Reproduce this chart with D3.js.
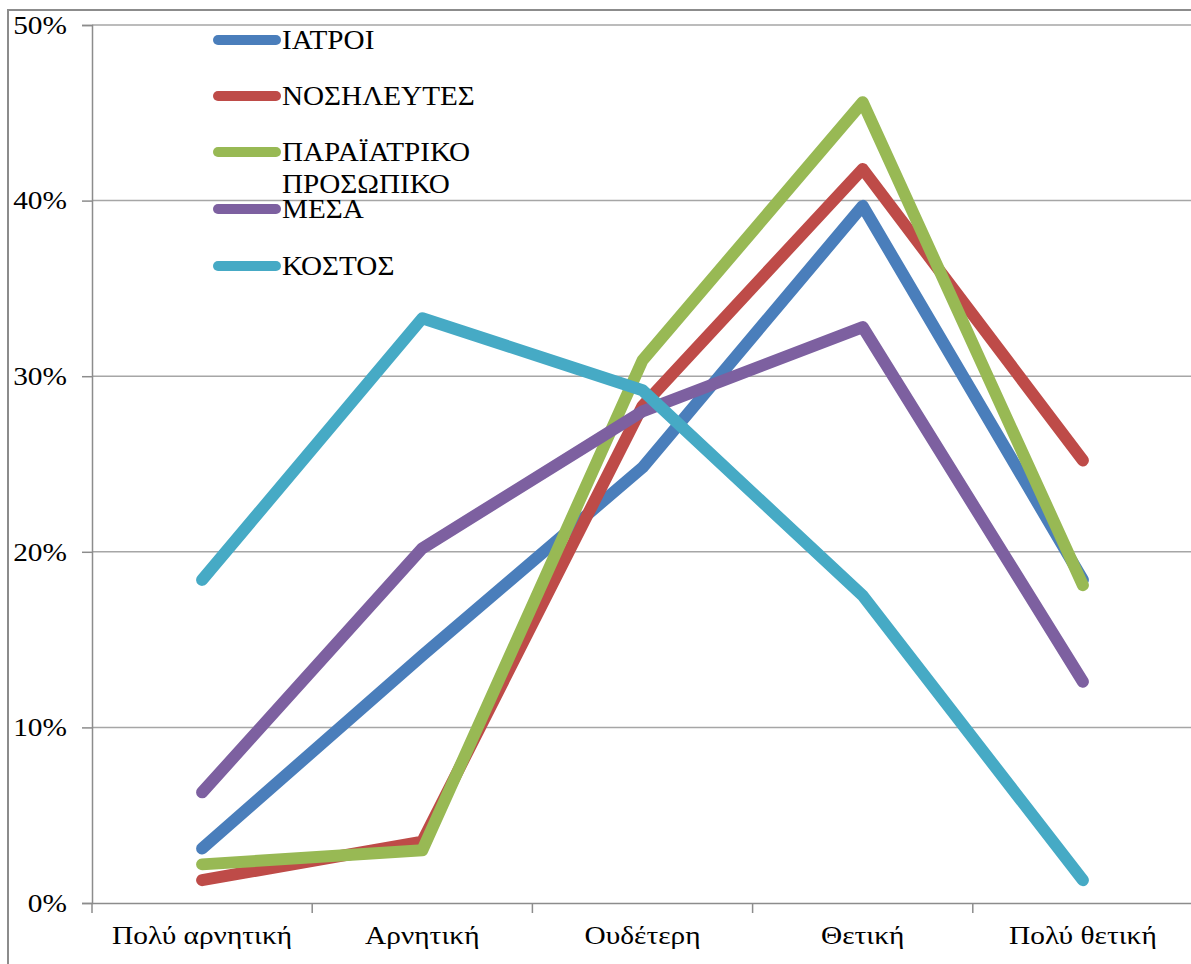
<!DOCTYPE html>
<html>
<head>
<meta charset="utf-8">
<script src="https://cdn.jsdelivr.net/npm/d3@7"></script>
<style>
  body { margin: 0; background: #fff; }
  svg { display: block; }
</style>
</head>
<body>
<div id="container"></div>
<script>
const categories = ['Πολύ αρνητική', 'Αρνητική', 'Ουδέτερη', 'Θετική', 'Πολύ θετική'];
const seriesNames = ['ΙΑΤΡΟΙ', 'ΝΟΣΗΛΕΥΤΕΣ', 'ΠΑΡΑΪΑΤΡΙΚΟ ΠΡΟΣΩΠΙΚΟ', 'ΜΕΣΑ', 'ΚΟΣΤΟΣ'];
const iatroi = [0.031, 0.141, 0.248, 0.397, 0.184];
const nosileutes = [0.013, 0.035, 0.283, 0.418, 0.252];
const paraiatriko = [0.022, 0.030, 0.309, 0.456, 0.181];
const mesa = [0.063, 0.202, 0.280, 0.328, 0.126];
const kostos = [0.184, 0.333, 0.292, 0.175, 0.013];
const yTicks = [0, 0.1, 0.2, 0.3, 0.4, 0.5];
const colors = ['#4a7ebb', '#be4b48', '#98b954', '#7d60a0', '#46aac5'];

const series = [iatroi, nosileutes, paraiatriko, mesa, kostos];

const W = 1191, H = 964;
const font = "'Liberation Serif', 'Times New Roman', serif";
const sx = 1.13;   // text in the picture is a bit wide

const svg = d3.select('#container')
    .append('svg')
    .attr('width', W)
    .attr('height', H);

// outer chart frame (runs off the picture on right and bottom)
svg.append('rect')
    .attr('x', 8)
    .attr('y', 10)
    .attr('width', W + 20)
    .attr('height', H + 20)
    .attr('fill', 'none')
    .attr('stroke', '#8c8c8c')
    .attr('stroke-width', 2);

const plotL = 92, plotR = 1193, plotT = 25, plotB = 903;

const x = d3.scaleBand()
    .domain(categories)
    .range([plotL, plotR])
    .padding(0);

const y = d3.scaleLinear()
    .domain([0, 0.5])
    .range([plotB, plotT]);

// gridlines
svg.append('g')
    .selectAll('line')
    .data(yTicks.filter(d => d > 0))
    .enter()
    .append('line')
    .attr('x1', plotL)
    .attr('x2', plotR)
    .attr('y1', d => y(d))
    .attr('y2', d => y(d))
    .attr('stroke', '#a6a6a6')
    .attr('stroke-width', 1.5);

// y axis
const yAxis = svg.append('g')
    .attr('transform', `translate(${plotL},0)`)
    .call(d3.axisLeft(y).tickValues(yTicks).tickFormat(d3.format('.0%')).tickSize(10).tickPadding(15));
yAxis.select('.domain').attr('stroke', '#8c8c8c').attr('stroke-width', 1.5);
yAxis.selectAll('.tick line').attr('stroke', '#8c8c8c').attr('stroke-width', 1.5);
yAxis.selectAll('.tick text')
    .style('font-family', font)
    .style('font-size', '26px')
    .attr('fill', '#000')
    .attr('x', -25 / sx)
    .attr('transform', `scale(${sx},1)`);

// x axis
const xAxis = svg.append('g')
    .attr('transform', `translate(0,${plotB})`)
    .call(d3.axisBottom(x).tickSize(0).tickPadding(23));
xAxis.select('.domain').attr('stroke', '#8c8c8c').attr('stroke-width', 1.5);
xAxis.selectAll('.tick text')
    .style('font-family', font)
    .style('font-size', '26px')
    .attr('fill', '#000')
    .attr('transform', `scale(${sx},1)`);

// category boundary ticks
svg.append('g')
    .selectAll('line')
    .data(categories)
    .enter()
    .append('line')
    .attr('x1', d => x(d))
    .attr('x2', d => x(d))
    .attr('y1', plotB)
    .attr('y2', plotB + 10)
    .attr('stroke', '#8c8c8c')
    .attr('stroke-width', 1.5);

// lines
const line = d3.line()
    .x((d, i) => x(categories[i]) + x.bandwidth() / 2)
    .y(d => y(d));

svg.append('g')
    .selectAll('path')
    .data(series)
    .enter()
    .append('path')
    .attr('d', line)
    .attr('fill', 'none')
    .attr('stroke', (d, i) => colors[i])
    .attr('stroke-width', 12)
    .attr('stroke-linecap', 'round')
    .attr('stroke-linejoin', 'round');

// legend
const legendRows = [40, 96, 152, 209, 266];
const legend = svg.append('g')
    .selectAll('g')
    .data(seriesNames)
    .enter()
    .append('g')
    .attr('transform', (d, i) => `translate(0,${legendRows[i]})`);

legend.append('line')
    .attr('x1', 218)
    .attr('x2', 276)
    .attr('stroke', (d, i) => colors[i])
    .attr('stroke-width', 10)
    .attr('stroke-linecap', 'round');

legend.append('text')
    .attr('transform', 'translate(282,9) scale(1.08,1)')
    .style('font-family', font)
    .style('font-size', '27px')
    .attr('fill', '#000')
    .selectAll('tspan')
    .data(d => d.split(' '))
    .enter()
    .append('tspan')
    .attr('x', 0)
    .attr('dy', (d, i) => i ? 32 : 0)
    .text(d => d);
</script>
</body>
</html>
